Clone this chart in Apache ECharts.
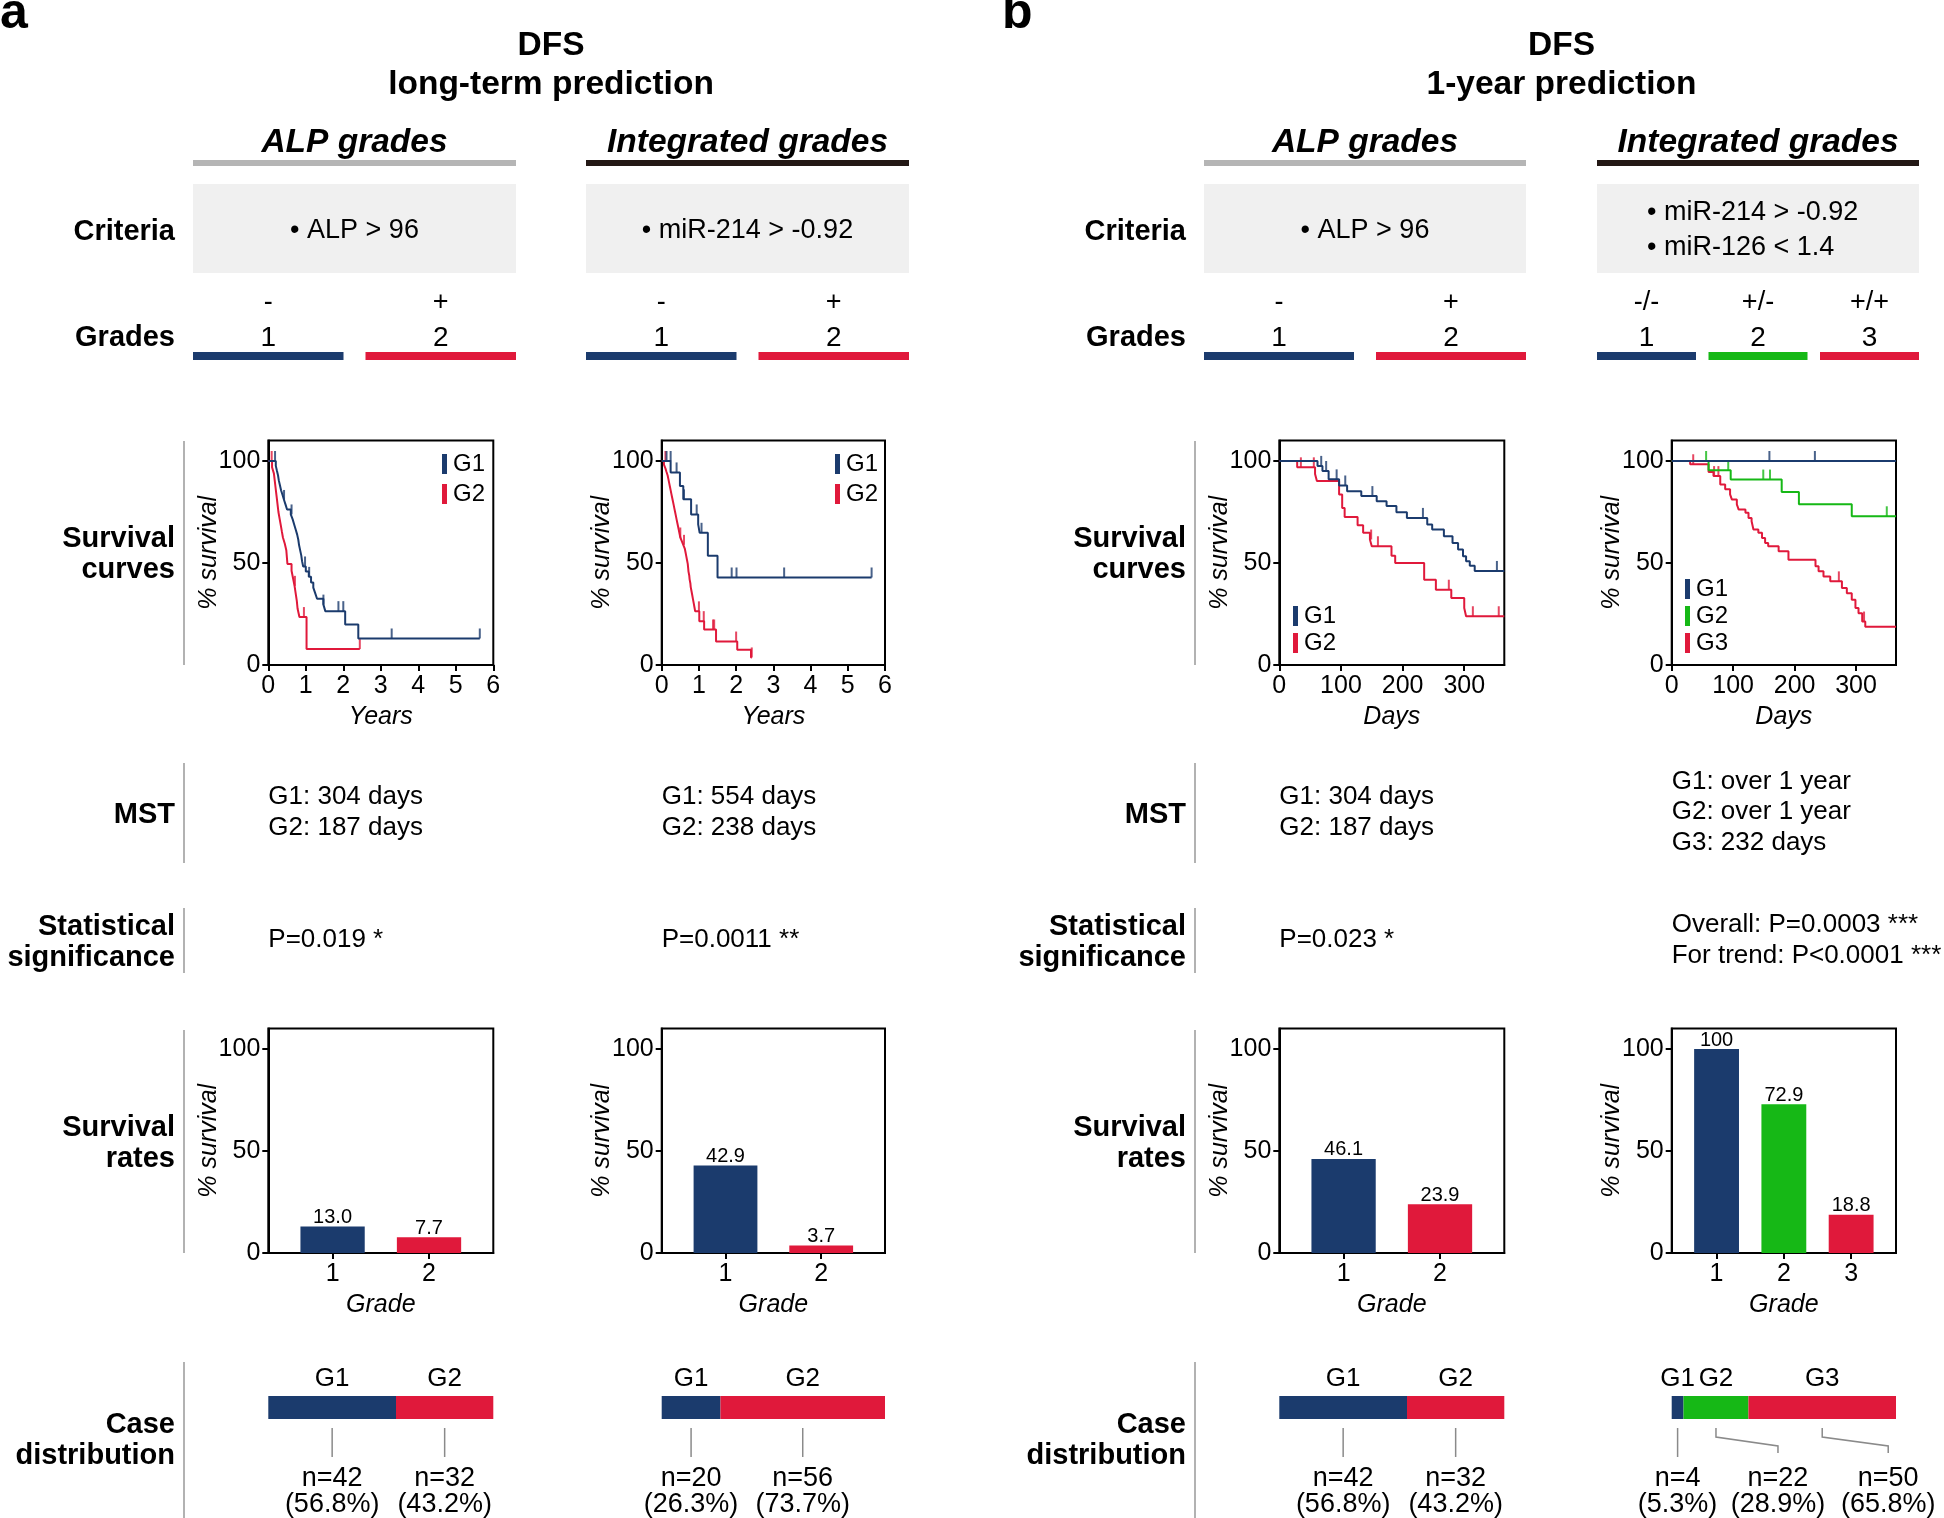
<!DOCTYPE html>
<html>
<head>
<meta charset="utf-8">
<title>DFS grades</title>
<script src="https://cdn.jsdelivr.net/npm/echarts@6/dist/echarts.min.js"></script>
<style>
  html, body { margin: 0; padding: 0; background: #fff; }
  #chart { width: 1944px; height: 1518px; }
</style>
</head>
<body>
<div id="chart"></div>
<script>
// ---- data ----
const yearTicks = [0, 1, 2, 3, 4, 5, 6];
const dayTicks = [0, 100, 200, 300];
const survTicks = [0, 50, 100];

// DFS long-term, ALP grades (years, % survival)
const longAlpG1 = [[0,100],[0.2,97.6],[0.23,95.2],[0.26,92.9],[0.28,90.5],[0.31,88.1],[0.34,85.7],[0.38,83.3],[0.42,80.9],[0.46,78.6],[0.5,76.2],[0.6,73.8],[0.65,71.4],[0.69,68.9],[0.73,66.4],[0.77,63.9],[0.8,61.4],[0.82,58.8],[0.85,56.2],[0.88,53.6],[0.9,50.9],[0.93,48.3],[1.0,45.8],[1.08,43.2],[1.14,40.5],[1.2,37.9],[1.25,35.2],[1.3,32.5],[1.47,29.6],[1.52,26.4],[2.05,19.8],[2.4,13.0],[5.64,13.0]];
const longAlpG1Cens = [[0.18,100],[0.42,80.9],[0.62,73.8],[0.98,48.3],[1.09,43.2],[1.47,29.6],[1.87,26.4],[2.0,26.4],[3.29,13.0],[5.64,13.0]];
const longAlpG2 = [[0,100],[0.1,96.9],[0.15,93.8],[0.17,90.6],[0.19,87.5],[0.21,84.4],[0.23,81.3],[0.25,78.1],[0.27,75],[0.3,71.9],[0.33,68.8],[0.36,65.6],[0.39,62.5],[0.44,59.4],[0.48,56.3],[0.51,49.5],[0.62,46.2],[0.66,42.5],[0.7,38.8],[0.73,35.1],[0.76,31.4],[0.78,27.7],[0.83,23.5],[1.02,7.8],[2.44,7.8]];
const longAlpG2Cens = [[0.09,100],[0.71,38.8],[0.95,23.5],[2.44,7.8]];

// DFS long-term, integrated grades
const longIntG1 = [[0,100],[0.24,94.4],[0.49,87.7],[0.58,81.2],[0.79,73.8],[0.98,68.9],[1.02,64.8],[1.24,53.6],[1.5,42.9],[5.64,42.9]];
const longIntG1Cens = [[0.13,100],[0.24,100],[0.4,94.4],[0.6,81.2],[0.94,73.8],[1.07,64.8],[1.88,42.9],[2.01,42.9],[3.29,42.9],[5.64,42.9]];
const longIntG2 = [[0,100],[0.06,98.2],[0.1,96.4],[0.13,94.6],[0.16,92.9],[0.18,91.1],[0.2,89.3],[0.22,87.5],[0.24,85.7],[0.26,83.9],[0.28,82.1],[0.3,80.4],[0.32,78.6],[0.34,76.8],[0.36,75],[0.38,73.2],[0.4,71.4],[0.42,69.6],[0.44,67.9],[0.46,66.1],[0.48,64.3],[0.5,62.5],[0.54,60.7],[0.58,58.9],[0.62,57.1],[0.64,55.3],[0.66,53.4],[0.68,51.5],[0.7,49.6],[0.71,47.7],[0.72,45.8],[0.74,43.9],[0.75,42],[0.77,40.1],[0.78,38.2],[0.8,36.3],[0.82,34.3],[0.84,32.3],[0.86,30.3],[0.88,28.3],[0.9,26.3],[1.01,21.5],[1.14,17.4],[1.46,11.5],[2.03,7.5],[2.4,3.7],[2.42,3.7]];
const longIntG2Cens = [[0.1,100],[0.5,62.5],[0.6,58.9],[1.0,26.3],[1.13,21.5],[1.38,17.4],[1.41,17.4],[2.0,11.5],[2.42,3.7]];

// DFS 1-year, ALP grades (days, % survival)
const yearAlpG1 = [[0,100],[62,97.6],[70,95.1],[80,91],[97,88],[110,85.2],[133,82.8],[158,80.3],[174,77.9],[190,74.9],[207,72.1],[240,68.9],[248,66.4],[267,63.1],[281,59.8],[290,56.6],[298,53.3],[303,50.8],[309,48.7],[317,46.1],[365,46.1]];
const yearAlpG1Cens = [[68,97.6],[76,95.1],[93,91],[107,88],[151,82.8],[233,72.1],[353,46.1]];
const yearAlpG2 = [[0,100],[29,96.9],[58,93.6],[61,90.2],[97,83.6],[102,77],[106,72.6],[127,68.5],[136,64.8],[147,61.5],[150,58.2],[182,53.6],[188,50],[235,41.8],[254,36.9],[279,32.8],[300,27.9],[303,23.9],[365,23.9]];
const yearAlpG2Cens = [[35,96.9],[56,96.9],[149,61.5],[160,58.2],[275,36.9],[314,23.9],[356,23.9]];

// DFS 1-year, integrated grades
const yearIntG1 = [[0,100],[365,100]];
const yearIntG1Cens = [[159,100],[233,100]];
const yearIntG2 = [[0,100],[60,95.5],[96,90.9],[179,84.8],[207,78.8],[293,72.9],[365,72.9]];
const yearIntG2Cens = [[56,100],[92,95.5],[149,90.9],[160,90.9],[350,72.9]];
const yearIntG3 = [[0,100],[30,98.4],[60,94.6],[68,92.6],[79,88.5],[87,86.1],[95,83.6],[98,81.1],[106,78.7],[109,76.2],[120,74.6],[125,72.1],[130,70.5],[133,66.4],[141,64.8],[147,62.3],[152,59.8],[157,58.2],[174,55.7],[190,51.6],[234,48.4],[239,45.9],[247,43.4],[258,41.0],[277,37.7],[285,35.2],[293,32.0],[299,27.9],[304,25.4],[310,21.3],[315,18.8],[365,18.8]];
const yearIntG3Cens = [[35,98.4],[69,92.6],[76,92.6],[272,41.0],[313,21.3]];

// survival rates (%)
const longAlpRates = [13.0, 7.7];
const longIntRates = [42.9, 3.7];
const yearAlpRates = [46.1, 23.9];
const yearIntRates = [100, 72.9, 18.8];

// case counts per grade
const longAlpCounts = [42, 32];
const longIntCounts = [20, 56];
const yearAlpCounts = [42, 32];
const yearIntCounts = [4, 22, 50];

// text content
const twoSigns = ['-', '+'];
const threeSigns = ['-/-', '+/-', '+/+'];
const critAlp = ['• ALP > 96'];
const critLongInt = ['• miR-214 > -0.92'];
const critYearInt = ['• miR-214 > -0.92', '• miR-126 < 1.4'];
const mstLongAlp = ['G1: 304 days', 'G2: 187 days'];
const mstLongInt = ['G1: 554 days', 'G2: 238 days'];
const mstYearAlp = ['G1: 304 days', 'G2: 187 days'];
const mstYearInt = ['G1: over 1 year', 'G2: over 1 year', 'G3: 232 days'];
const statLongAlp = ['P=0.019 *'];
const statLongInt = ['P=0.0011 **'];
const statYearAlp = ['P=0.023 *'];
const statYearInt = ['Overall: P=0.0003 ***', 'For trend: P<0.0001 ***'];

// ---- styles / layout ----
const BLUE = '#1b3b6d';
const RED = '#e0193b';
const GREEN = '#16b816';
const SEP = '#999999';
const FONT = "'Liberation Sans', Arial, Helvetica, sans-serif";
const TEXT_DY = 3; // canvas text sits a little high, nudge it down

const KM_TOP = 440.6, PLOT_H = 224.4;
const BAR_TOP = 1028.6;
const CASE_TOP = 1396, CASE_H = 23;

const panels = [
  { col: [193, 516], gl: 268.3, gw: 225, xMax: 6, xTicks: yearTicks, xName: 'Years',
    curves: [[longAlpG1, longAlpG1Cens], [longAlpG2, longAlpG2Cens]], colors: [BLUE, RED],
    legend: { left: 437, top: 447, gap: 6 }, rates: longAlpRates, counts: longAlpCounts, nShift: [0, 0],
    header: 'ALP grades', headerLine: '#b5b5b5', criteria: critAlp, signs: twoSigns, mst: mstLongAlp, stat: statLongAlp },
  { col: [586, 909], gl: 661.7, gw: 223.3, xMax: 6, xTicks: yearTicks, xName: 'Years',
    curves: [[longIntG1, longIntG1Cens], [longIntG2, longIntG2Cens]], colors: [BLUE, RED],
    legend: { left: 830, top: 447, gap: 6 }, rates: longIntRates, counts: longIntCounts, nShift: [0, 0],
    header: 'Integrated grades', headerLine: '#231815', criteria: critLongInt, signs: twoSigns, mst: mstLongInt, stat: statLongInt },
  { col: [1204, 1526], gl: 1279.3, gw: 225, xMax: 365, xTicks: dayTicks, xName: 'Days',
    curves: [[yearAlpG1, yearAlpG1Cens], [yearAlpG2, yearAlpG2Cens]], colors: [BLUE, RED],
    legend: { left: 1288, top: 599, gap: 3 }, rates: yearAlpRates, counts: yearAlpCounts, nShift: [0, 0],
    header: 'ALP grades', headerLine: '#b5b5b5', criteria: critAlp, signs: twoSigns, mst: mstYearAlp, stat: statYearAlp },
  { col: [1597, 1919], gl: 1671.7, gw: 224.3, xMax: 365, xTicks: dayTicks, xName: 'Days',
    curves: [[yearIntG1, yearIntG1Cens], [yearIntG2, yearIntG2Cens], [yearIntG3, yearIntG3Cens]], colors: [BLUE, GREEN, RED],
    legend: { left: 1680, top: 572, gap: 3 }, rates: yearIntRates, counts: yearIntCounts, nShift: [0, 62, 66],
    header: 'Integrated grades', headerLine: '#231815', criteria: critYearInt, signs: threeSigns, mst: mstYearInt, stat: statYearInt }
];

// ---- helpers ----
function T(x, y, text, size, o = {}) {
  const al = o.align || 'center';
  return {
    type: 'text', silent: true, z: 10,
    style: {
      x, y: y + TEXT_DY, text, fill: '#000',
      fontSize: size, fontFamily: FONT,
      fontWeight: o.bold ? 'bold' : 'normal',
      fontStyle: o.italic ? 'italic' : 'normal',
      textAlign: al, align: al,
      textVerticalAlign: o.va || 'middle', verticalAlign: o.va || 'middle',
      lineHeight: o.lh || Math.round(size * 1.2)
    }
  };
}
function R(x, y, w, h, fill) {
  return { type: 'rect', silent: true, z: 1, shape: { x, y, width: w, height: h }, style: { fill } };
}
function L(x1, y1, x2, y2, stroke, w) {
  return { type: 'line', silent: true, z: 5, shape: { x1, y1, x2, y2 }, style: { stroke, lineWidth: w } };
}

const axisLine = { show: true, onZero: false, lineStyle: { color: '#000', width: 2 } };
const labelStyle = { fontSize: 25, color: '#000', fontFamily: FONT };
const nameStyle = { fontSize: 25, color: '#000', fontFamily: FONT, fontStyle: 'italic' };

function xValueAxis(gi, min, max, ticks, name) {
  return {
    gridIndex: gi, type: 'value', min, max,
    axisLine,
    axisTick: { show: true, length: 6, customValues: ticks, lineStyle: { color: '#000', width: 2 } },
    axisLabel: Object.assign({ customValues: ticks, margin: 9 }, labelStyle),
    splitLine: { show: false },
    name, nameLocation: 'middle', nameGap: 40, nameMoveOverlap: false, nameTextStyle: nameStyle
  };
}
function ySurvAxis(gi) {
  return {
    gridIndex: gi, type: 'value', min: 0, max: 110,
    axisLine,
    axisTick: { show: true, length: 6, customValues: survTicks, lineStyle: { color: '#000', width: 2 } },
    axisLabel: Object.assign({ customValues: survTicks, margin: 8 }, labelStyle),
    splitLine: { show: false },
    name: '% survival', nameLocation: 'middle', nameGap: 47, nameRotate: 90,
    nameMoveOverlap: false, nameTextStyle: nameStyle
  };
}
const fmtRate = v => (v === 100 ? '100' : v.toFixed(1));

// ---- build option ----
const grid = [], xAxis = [], yAxis = [], series = [], legend = [], graphic = [];

panels.forEach((p, pi) => {
  const n = p.colors.length;

  // survival curves
  let gi = grid.length;
  grid.push({ left: p.gl, top: KM_TOP, width: p.gw, height: PLOT_H, show: true, borderColor: '#000', borderWidth: 2 });
  xAxis.push(xValueAxis(gi, 0, p.xMax, p.xTicks, p.xName));
  yAxis.push(ySurvAxis(gi));
  p.curves.forEach(([curve, cens], k) => {
    const color = p.colors[k];
    const name = 'G' + (k + 1);
    series.push({
      type: 'line', name, xAxisIndex: gi, yAxisIndex: gi, data: curve, step: 'end',
      symbol: 'none', showSymbol: false, lineStyle: { color, width: 2 }, itemStyle: { color },
      animation: false, z: 3 + (n - k)
    });
    series.push({
      type: 'scatter', name: name + ' censored', xAxisIndex: gi, yAxisIndex: gi, data: cens,
      symbol: 'rect', symbolSize: [2, 10], symbolOffset: [0, -5], itemStyle: { color },
      animation: false, z: 3 + (n - k)
    });
  });
  legend.push({
    left: p.legend.left, top: p.legend.top, orient: 'vertical', icon: 'rect',
    itemWidth: 5, itemHeight: 20, itemGap: p.legend.gap, selectedMode: false,
    textStyle: { fontSize: 24, color: '#000', fontFamily: FONT, padding: [0, 0, 0, 1] },
    data: p.colors.map((c, k) => ({ name: 'G' + (k + 1), itemStyle: { color: c } }))
  });

  // survival rates
  gi = grid.length;
  grid.push({ left: p.gl, top: BAR_TOP, width: p.gw, height: PLOT_H, show: true, borderColor: '#000', borderWidth: 2 });
  const grades = p.rates.map((v, k) => k + 1);
  const xMin = 1 / 3, xMax = n + 2 / 3;
  xAxis.push(xValueAxis(gi, xMin, xMax, grades, 'Grade'));
  yAxis.push(ySurvAxis(gi));
  series.push({
    type: 'bar', xAxisIndex: gi, yAxisIndex: gi, animation: false,
    barWidth: p.gw / (xMax - xMin) * 2 / 3,
    data: p.rates.map((v, k) => ({ value: [k + 1, v], itemStyle: { color: p.colors[k] } })),
    label: { show: true, position: 'top', distance: -1, fontSize: 20, color: '#000', fontFamily: FONT,
             formatter: prm => fmtRate(prm.value[1]) }
  });

  // case distribution
  gi = grid.length;
  const total = p.counts.reduce((a, b) => a + b, 0);
  grid.push({ left: p.gl, top: CASE_TOP, width: p.gw, height: CASE_H });
  xAxis.push({ gridIndex: gi, type: 'value', min: 0, max: total, show: false });
  yAxis.push({ gridIndex: gi, type: 'category', data: ['cases'], show: false });
  let cum = 0;
  p.counts.forEach((c, k) => {
    series.push({
      type: 'bar', name: 'G' + (k + 1), xAxisIndex: gi, yAxisIndex: gi, stack: 'case' + pi,
      data: [c], barWidth: CASE_H, itemStyle: { color: p.colors[k] }, animation: false,
      label: { show: true, position: 'top', distance: 4, fontSize: 26, color: '#000', fontFamily: FONT, formatter: '{a}' }
    });
    const cx = p.gl + (cum + c / 2) / total * p.gw;
    const lx = cx + p.nShift[k];
    if (p.nShift[k] === 0) {
      graphic.push(L(cx, 1428, cx, 1457, '#8a8a8a', 1.5));
    } else {
      graphic.push({ type: 'polyline', silent: true, z: 5,
        shape: { points: [[cx, 1428], [cx, 1437], [lx, 1446], [lx, 1453]] },
        style: { stroke: '#8a8a8a', lineWidth: 1.5, fill: null } });
    }
    graphic.push(T(lx, 1489, 'n=' + c + '\n(' + (c / total * 100).toFixed(1) + '%)', 27, { lh: 26 }));
    cum += c;
  });

  // header / criteria / grades
  const [x0, x1] = p.col;
  const cx = (x0 + x1) / 2;
  graphic.push(T(cx, 140, p.header, 33.5, { italic: true, bold: true }));
  graphic.push(R(x0, 160, x1 - x0, 6, p.headerLine));
  graphic.push(R(x0, 184, x1 - x0, 89, '#f0f0f0'));
  if (p.criteria.length === 1) {
    graphic.push(T(cx, 228, p.criteria[0], 27));
  } else {
    graphic.push(T(cx - 111, 227.5, p.criteria.join('\n'), 27, { align: 'left', lh: 35 }));
  }
  const gap = n === 2 ? 22 : 12.5;
  const bw = (x1 - x0 - gap * (n - 1)) / n;
  for (let k = 0; k < n; k++) {
    const bx = x0 + k * (bw + gap);
    graphic.push(R(bx, 352, bw, 8, p.colors[k]));
    graphic.push(T(bx + bw / 2, 300, p.signs[k], 27));
    graphic.push(T(bx + bw / 2, 335, String(k + 1), 28));
  }

  // MST / statistics
  graphic.push(T(p.gl, 809, p.mst.join('\n'), 26, { align: 'left', lh: p.mst.length > 2 ? 30.4 : 31 }));
  graphic.push(T(p.gl, 937, p.stat.join('\n'), 26, { align: 'left', lh: 31 }));
});

// panel titles and row labels
[
  { letterX: 0, sepX: 184, titles: 'DFS\nlong-term prediction', tx: (193 + 909) / 2, letter: 'a' },
  { letterX: 1002, sepX: 1195, titles: 'DFS\n1-year prediction', tx: (1204 + 1919) / 2, letter: 'b' }
].forEach(h => {
  graphic.push(T(h.letterX, 36, h.letter, 50, { bold: true, align: 'left', va: 'bottom', lh: 50 }));
  graphic.push(T(h.tx, 62.5, h.titles, 33.5, { bold: true, lh: 39 }));
  const rx = h.sepX - 9;
  graphic.push(T(rx, 229, 'Criteria', 29, { bold: true, align: 'right' }));
  graphic.push(T(rx, 335, 'Grades', 29, { bold: true, align: 'right' }));
  graphic.push(T(rx, 551.5, 'Survival\ncurves', 29, { bold: true, align: 'right', lh: 31 }));
  graphic.push(T(rx, 812, 'MST', 29, { bold: true, align: 'right' }));
  graphic.push(T(rx, 939, 'Statistical\nsignificance', 29, { bold: true, align: 'right', lh: 31 }));
  graphic.push(T(rx, 1140, 'Survival\nrates', 29, { bold: true, align: 'right', lh: 31 }));
  graphic.push(T(rx, 1437.5, 'Case\ndistribution', 29, { bold: true, align: 'right', lh: 31 }));
  [[441, 665], [763, 863], [908, 973], [1030, 1253], [1362, 1518]].forEach(([a, b]) => {
    graphic.push(L(h.sepX, a, h.sepX, b, SEP, 1.5));
  });
});

const chart = echarts.init(document.getElementById('chart'), null, { renderer: 'canvas' });
chart.setOption({
  backgroundColor: '#fff',
  animation: false,
  textStyle: { fontFamily: FONT },
  grid, xAxis, yAxis, series, legend,
  graphic: { elements: graphic }
});
</script>
</body>
</html>
